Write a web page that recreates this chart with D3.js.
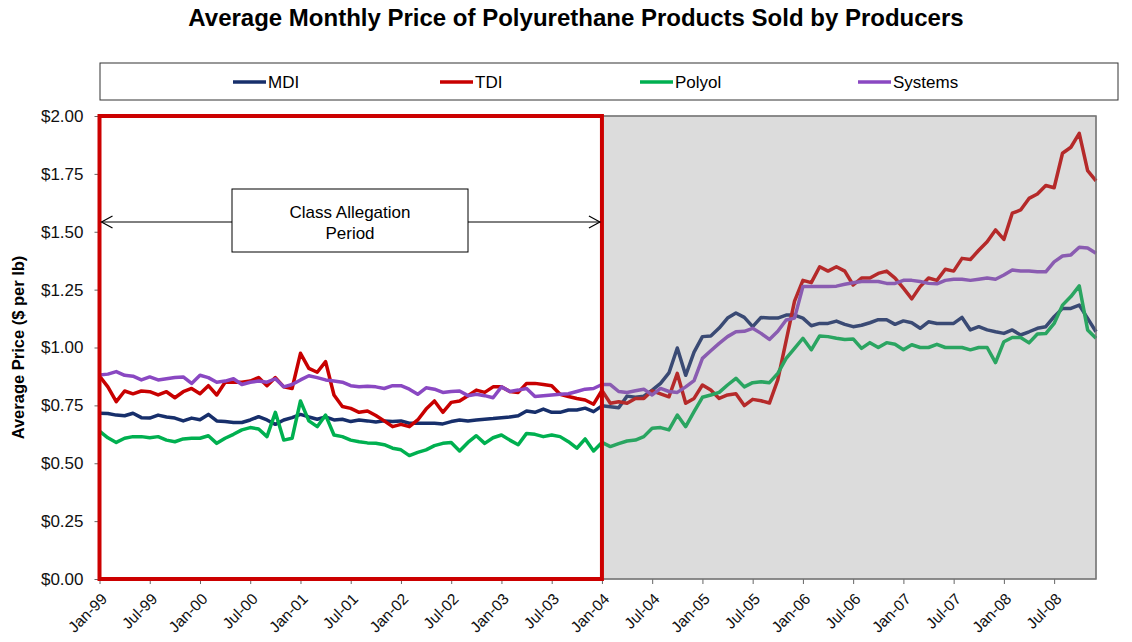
<!DOCTYPE html>
<html>
<head>
<meta charset="utf-8">
<script src="https://d3js.org/d3.v7.min.js"></script>
<style>
  body { margin: 0; background: #fff; }
  svg { font-family: "Liberation Sans", Arial, sans-serif; }
</style>
</head>
<body>
<svg id="chart" width="1132" height="642"></svg>
<script>
// tick labels on the x axis, one every 6 months (Jan-99 .. Jul-08)
const tickLabels = ["Jan-99","Jul-99","Jan-00","Jul-00","Jan-01","Jul-01","Jan-02","Jul-02",
  "Jan-03","Jul-03","Jan-04","Jul-04","Jan-05","Jul-05","Jan-06","Jul-06","Jan-07","Jul-07",
  "Jan-08","Jul-08"];
const yTicks = [0, 0.25, 0.5, 0.75, 1, 1.25, 1.5, 1.75, 2];
const seriesNames = ["MDI", "TDI", "Polyol", "Systems"];

// monthly prices, Jan-99 .. Dec-08 (120 months)
const mdi = [0.716,0.715,0.708,0.705,0.716,0.697,0.695,0.708,0.70,0.695,0.683,0.695,0.688,0.711,0.683,0.68,0.676,
  0.676,0.687,0.701,0.687,0.668,0.687,0.697,0.711,0.70,0.69,0.70,0.687,0.69,0.68,0.687,0.683,
  0.678,0.683,0.68,0.683,0.673,0.673,0.673,0.673,0.67,0.68,0.687,0.683,0.687,0.69,0.693,0.697,
  0.70,0.705,0.726,0.72,0.734,0.72,0.72,0.73,0.73,0.738,0.723,0.748,
  0.744,0.74,0.79,0.785,0.79,0.816,0.845,0.89,0.998,0.88,0.98,1.047,1.05,1.084,1.127,1.149,1.13,1.09,
  1.13,1.127,1.127,1.14,1.14,1.127,1.094,1.104,1.104,1.114,1.10,1.09,1.096,1.107,1.12,1.12,1.10,1.115,
  1.107,1.083,1.111,1.104,1.104,1.104,1.13,1.076,1.09,1.076,1.068,1.061,1.076,1.054,1.068,1.083,1.09,
  1.133,1.169,1.169,1.183,1.126,1.068];
const tdi = [0.876,0.83,0.766,0.812,0.80,0.812,0.809,0.795,0.809,0.783,0.809,0.823,0.80,0.835,0.795,0.85,0.85,
  0.85,0.855,0.87,0.835,0.87,0.83,0.823,0.975,0.91,0.893,0.939,0.795,0.745,0.737,0.72,0.726,
  0.706,0.683,0.658,0.668,0.658,0.687,0.734,0.769,0.72,0.763,0.769,0.792,0.816,0.806,0.83,0.83,
  0.81,0.806,0.845,0.845,0.84,0.835,0.798,0.788,0.78,0.773,0.755,0.815,
  0.759,0.766,0.759,0.78,0.78,0.813,0.80,0.787,0.888,0.759,0.78,0.838,0.816,0.78,0.795,0.80,0.749,0.776,
  0.77,0.76,0.86,1.03,1.20,1.29,1.28,1.349,1.33,1.349,1.33,1.27,1.30,1.30,1.32,1.33,1.30,1.256,
  1.21,1.263,1.30,1.29,1.338,1.33,1.385,1.38,1.42,1.457,1.508,1.467,1.58,1.594,1.644,1.663,1.70,
  1.69,1.839,1.865,1.925,1.764,1.72];
const polyol = [0.639,0.61,0.59,0.608,0.615,0.615,0.61,0.615,0.60,0.593,0.605,0.608,0.608,0.619,0.586,0.608,0.625,
  0.644,0.654,0.648,0.615,0.72,0.60,0.608,0.769,0.683,0.658,0.708,0.622,0.615,0.60,0.593,0.588,
  0.586,0.58,0.565,0.558,0.533,0.547,0.558,0.576,0.586,0.59,0.553,0.59,0.619,0.586,0.61,0.622,
  0.60,0.58,0.629,0.625,0.615,0.622,0.615,0.593,0.565,0.605,0.553,0.59,
  0.572,0.585,0.596,0.60,0.615,0.651,0.654,0.644,0.708,0.658,0.723,0.785,0.795,0.806,0.838,0.867,0.83,0.848,
  0.852,0.848,0.888,0.953,0.996,1.04,0.99,1.05,1.047,1.04,1.035,1.037,0.996,1.021,1.00,1.021,1.014,0.99,
  1.012,1.00,1.00,1.014,1.00,1.00,1.00,0.99,1.00,1.00,0.935,1.025,1.043,1.043,1.02,1.058,1.06,
  1.104,1.183,1.22,1.266,1.076,1.04];
const systems = [0.881,0.885,0.896,0.88,0.876,0.86,0.873,0.86,0.865,0.87,0.873,0.845,0.88,0.87,0.85,0.855,0.865,
  0.84,0.85,0.855,0.85,0.865,0.83,0.84,0.86,0.878,0.87,0.86,0.855,0.85,0.835,0.83,0.833,
  0.83,0.823,0.835,0.835,0.82,0.798,0.826,0.82,0.806,0.81,0.812,0.792,0.798,0.792,0.783,0.83,
  0.81,0.816,0.823,0.788,0.792,0.795,0.798,0.80,0.81,0.82,0.823,0.84,
  0.84,0.81,0.806,0.813,0.82,0.795,0.823,0.81,0.806,0.83,0.857,0.953,0.986,1.018,1.047,1.068,1.07,1.083,
  1.061,1.035,1.07,1.119,1.127,1.263,1.263,1.263,1.263,1.265,1.273,1.28,1.285,1.285,1.285,1.277,1.277,1.29,
  1.29,1.285,1.277,1.275,1.29,1.295,1.295,1.29,1.295,1.30,1.295,1.313,1.335,1.33,1.33,1.327,1.327,
  1.37,1.395,1.40,1.433,1.43,1.407];

const allSeries = [mdi, tdi, polyol, systems];
const colors = ["#172f6b", "#c80000", "#00b050", "#8a48c2"];

const svg = d3.select("#chart");
const plotLeft = 99.5, plotRight = 1096, plotTop = 116, plotBottom = 579;
const nMonths = mdi.length;
const allegEnd = 60; // Jan-04

const x = d3.scaleLinear().domain([0, nMonths - 1]).range([plotLeft, plotRight]);
const y = d3.scaleLinear().domain([0, 2]).range([plotBottom, plotTop]);

// title
svg.append("text")
  .attr("x", 576).attr("y", 26)
  .attr("text-anchor", "middle")
  .attr("font-size", 24).attr("font-weight", "bold")
  .text("Average Monthly Price of Polyurethane Products Sold by Producers");

// legend
svg.append("rect")
  .attr("x", 100).attr("y", 63).attr("width", 1018).attr("height", 37)
  .attr("fill", "#fff").attr("stroke", "#333").attr("stroke-width", 1);
const legendX = [233, 440, 640, 858];
seriesNames.forEach((name, i) => {
  const g = svg.append("g").attr("transform", `translate(${legendX[i]},82)`);
  g.append("line").attr("x1", 0).attr("x2", 33).attr("y1", 0).attr("y2", 0)
    .attr("stroke", colors[i]).attr("stroke-width", 3.5);
  g.append("text").attr("x", 35).attr("y", 6).attr("font-size", 17).text(name);
});

// plot background + border
svg.append("rect")
  .attr("x", plotLeft).attr("y", plotTop).attr("width", plotRight - plotLeft).attr("height", plotBottom - plotTop)
  .attr("fill", "#fff").attr("stroke", "#777").attr("stroke-width", 1.2);

// axes
const xAxis = d3.axisBottom(x)
  .tickValues(d3.range(0, nMonths, 6))
  .tickSize(5)
  .tickFormat(d => tickLabels[d / 6]);
const gx = svg.append("g").attr("transform", `translate(0,${plotBottom})`).call(xAxis);
gx.select(".domain").remove();
gx.selectAll(".tick line").attr("stroke", "#666");
gx.selectAll(".tick text")
  .attr("font-size", 15.5).attr("fill", "#111")
  .attr("text-anchor", "end")
  .attr("y", 0).attr("dy", 0)
  .attr("transform", "translate(8,21) rotate(-45)");

const yAxis = d3.axisLeft(y)
  .tickValues(yTicks)
  .tickSize(5)
  .tickPadding(11)
  .tickFormat(d3.format("$.2f"));
const gy = svg.append("g").attr("transform", `translate(${plotLeft},0)`).call(yAxis);
gy.select(".domain").remove();
gy.selectAll(".tick line").attr("stroke", "#666");
gy.selectAll(".tick text").attr("font-size", 17).attr("fill", "#111");

svg.append("text")
  .attr("transform", `translate(24,${(plotTop + plotBottom) / 2}) rotate(-90)`)
  .attr("text-anchor", "middle")
  .attr("font-size", 16.5).attr("font-weight", "bold")
  .text("Average Price ($ per lb)");

// lines
const line = d3.line().x((d, i) => x(i)).y(d => y(d));
allSeries.forEach((s, i) => {
  svg.append("path").datum(s)
    .attr("fill", "none")
    .attr("stroke", colors[i])
    .attr("stroke-width", 3.5)
    .attr("stroke-linejoin", "round")
    .attr("d", line);
});

// grey shading over the post-allegation period
svg.append("rect")
  .attr("x", x(allegEnd)).attr("y", plotTop)
  .attr("width", plotRight - x(allegEnd)).attr("height", plotBottom - plotTop)
  .attr("fill", "#8c8c8c").attr("fill-opacity", 0.3)
  .attr("stroke", "#777").attr("stroke-width", 1.2);

// red allegation box
svg.append("rect")
  .attr("x", x(0)).attr("y", plotTop)
  .attr("width", x(allegEnd) - x(0)).attr("height", plotBottom - plotTop)
  .attr("fill", "none").attr("stroke", "#cc0000").attr("stroke-width", 4);

// double-headed arrow
const ay = 222;
svg.append("line")
  .attr("x1", x(0) + 2).attr("x2", x(allegEnd) - 2).attr("y1", ay).attr("y2", ay)
  .attr("stroke", "#000").attr("stroke-width", 1);
[[x(0) + 2, 1], [x(allegEnd) - 2, -1]].forEach(([px, dir]) => {
  svg.append("path")
    .attr("d", `M${px + dir * 11},${ay - 6} L${px},${ay} L${px + dir * 11},${ay + 6}`)
    .attr("fill", "none").attr("stroke", "#000").attr("stroke-width", 1.2);
});

// annotation box
svg.append("rect")
  .attr("x", 232).attr("y", 189).attr("width", 236).attr("height", 63)
  .attr("fill", "#fff").attr("stroke", "#000").attr("stroke-width", 1);
svg.append("text").attr("x", 350).attr("y", 218)
  .attr("text-anchor", "middle").attr("font-size", 17).text("Class Allegation");
svg.append("text").attr("x", 350).attr("y", 239)
  .attr("text-anchor", "middle").attr("font-size", 17).text("Period");
</script>
</body>
</html>
